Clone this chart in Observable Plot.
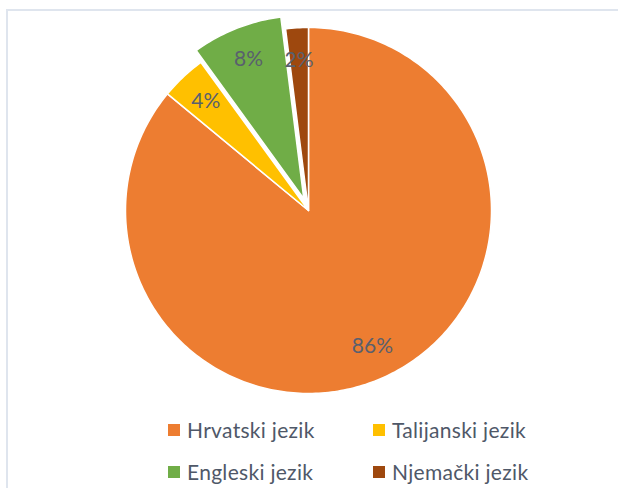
<!DOCTYPE html>
<html>
<head>
<meta charset="utf-8">
<script src="https://cdn.jsdelivr.net/npm/d3@7"></script>
<script src="https://cdn.jsdelivr.net/npm/@observablehq/plot@0.6"></script>
<style>
  html, body { margin: 0; padding: 0; background: #fff; }
  #wrap { position: relative; width: 618px; height: 488px; overflow: hidden; font-family: Lato, "Open Sans", sans-serif; }
  #frame { position: absolute; left: 6px; top: 9px; right: -10px; bottom: -10px; border-top: 2px solid #dfe5ee; border-left: 2px solid #dfe5ee; }
  #chart { position: absolute; left: 0; top: 0; }
  #legend { position: absolute; left: 168px; top: 418px; display: grid; grid-template-columns: 205px 170px; row-gap: 19px; }
  .item { display: flex; align-items: center; font-size: 21px; letter-spacing: 0.3px; color: #4f5868; line-height: 23px; white-space: nowrap; }
  .sw { width: 12px; height: 12px; margin-right: 7px; flex: none; }
</style>
</head>
<body>
<div id="wrap">
  <div id="frame"></div>
  <div id="chart"></div>
  <div id="legend"></div>
</div>
<script>
const categories = ["Hrvatski jezik", "Talijanski jezik", "Engleski jezik", "Njemački jezik"];
const values = [86, 4, 8, 2];
const labels = ["86%", "4%", "8%", "2%"];
const colors = ["#ED7D31", "#FFC000", "#70AD47", "#9E480E"];
const exploded = [0, 0, 0.07, 0];

const arcs = d3.pie().sort(null).value(d => d)(values);

// Build slice polygons in unit (radius = 1) coordinates, y up
const polyPts = [];
const labelPts = [];
arcs.forEach((a, i) => {
  const mid = (a.startAngle + a.endAngle) / 2;
  const ox = exploded[i] * Math.sin(mid), oy = exploded[i] * Math.cos(mid);
  polyPts.push({cat: categories[i], x: ox, y: oy});
  const steps = Math.max(2, Math.ceil((a.endAngle - a.startAngle) / (Math.PI / 180)));
  for (let s = 0; s <= steps; s++) {
    const t = a.startAngle + (a.endAngle - a.startAngle) * s / steps;
    polyPts.push({cat: categories[i], x: ox + Math.sin(t), y: oy + Math.cos(t)});
  }
  polyPts.push({cat: categories[i], x: ox, y: oy});
  labelPts.push({cat: categories[i], label: labels[i], x: ox + 0.82 * Math.sin(mid), y: oy + 0.82 * Math.cos(mid)});
});

const chart = Plot.plot({
  width: 618,
  height: 410,
  margin: 0,
  x: {domain: [-308 / 183, 310 / 183], axis: null},
  y: {domain: [-200 / 183, 210 / 183], axis: null},
  color: {domain: categories, range: colors},
  style: {background: "transparent", overflow: "visible"},
  marks: [
    Plot.line(polyPts, {x: "x", y: "y", z: "cat", fill: "cat", stroke: "white", strokeWidth: 1.5, curve: "linear"}),
    Plot.text(labelPts, {x: "x", y: "y", text: "label", fill: "#59606e", fontSize: 21, fontFamily: "Lato, 'Open Sans', sans-serif"})
  ]
});
document.getElementById("chart").appendChild(chart);

const legend = document.getElementById("legend");
categories.forEach((c, i) => {
  const it = document.createElement("div");
  it.className = "item";
  const sw = document.createElement("span");
  sw.className = "sw";
  sw.style.background = colors[i];
  it.appendChild(sw);
  it.appendChild(document.createTextNode(c));
  legend.appendChild(it);
});
</script>
</body>
</html>
